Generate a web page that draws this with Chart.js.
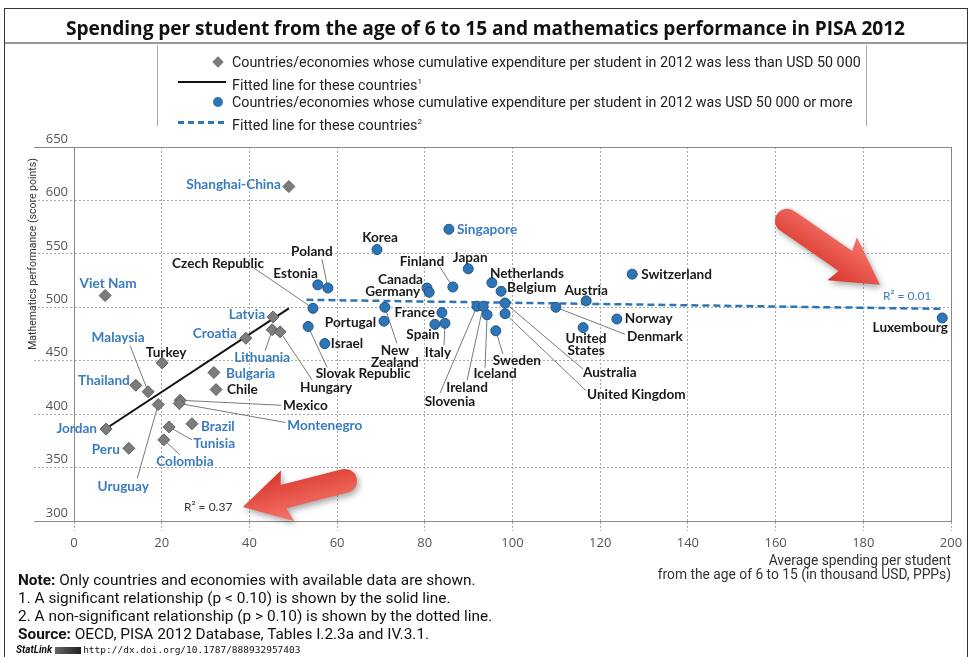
<!DOCTYPE html>
<html>
<head>
<meta charset="utf-8">
<script src="https://cdn.jsdelivr.net/npm/chart.js@4.4.1/dist/chart.umd.min.js"></script>
<style>
  body { margin: 0; background: #fff; }
  #wrap { position: relative; width: 971px; height: 657px; overflow: hidden; font-family: Roboto, sans-serif; color: #222; }
  #chart { position: absolute; left: 0; top: 0; }
  .abs { position: absolute; white-space: nowrap; }
  #frame { position: absolute; left: 4px; top: 8px; width: 962px; height: 660px; border: 1px solid #333; }
  #title { left: 0; top: 15px; width: 971px; text-align: center; font: bold 19.2px "Open Sans", sans-serif; line-height: 26px; color: #111; letter-spacing: -0.1px; }
  #rule { left: 5px; top: 42px; width: 962px; height: 0; border-top: 2px solid #999; }
  .vline { top: 45px; width: 0; height: 81px; border-left: 1px solid #aaa; }
  .leg { left: 232px; font-size: 14.3px; line-height: 16px; color: #222; }
  .leg sup { font-size: 8px; }
  .note { left: 18px; font-size: 15.4px; line-height: 18px; color: #111; }
  #ytitle { left: 32px; top: 254px; font-size: 10.5px; color: #333; transform: translate(-50%, -50%) rotate(-90deg); }
  #xtitle { right: 20px; top: 553px; text-align: right; font-size: 13.8px; line-height: 14px; color: #333; }
</style>
</head>
<body>
<div id="wrap">
  <canvas id="chart" width="971" height="657"></canvas>
  <div id="frame"></div>
  <div class="abs" id="title">Spending per student from the age of 6 to 15 and mathematics performance in PISA 2012</div>
  <div class="abs" id="rule"></div>
  <div class="abs vline" style="left:157px"></div>
  <div class="abs vline" style="left:866px"></div>

  <div class="abs" style="left:214px;top:58px;width:8px;height:8px;background:#7a7a7a;transform:rotate(45deg)"></div>
  <div class="abs leg" style="top:54px">Countries/economies whose cumulative expenditure per student in 2012 was less than USD 50 000</div>
  <div class="abs" style="left:178px;top:81px;width:48px;height:2px;background:#111"></div>
  <div class="abs leg" style="top:74px">Fitted line for these countries<sup>1</sup></div>
  <div class="abs" style="left:213px;top:97px;width:10px;height:10px;border-radius:50%;background:#2e75b6"></div>
  <div class="abs leg" style="top:94px">Countries/economies whose cumulative expenditure per student in 2012 was USD 50 000 or more</div>
  <div class="abs" style="left:178px;top:121px;width:48px;height:3px;background:repeating-linear-gradient(90deg,#2e75b6 0 6px,transparent 6px 10px)"></div>
  <div class="abs leg" style="top:114px">Fitted line for these countries<sup>2</sup></div>

  <div class="abs" id="ytitle">Mathematics performance (score points)</div>
  <div class="abs" id="xtitle">Average spending per student<br>from the age of 6 to 15 (in thousand USD, PPPs)</div>

  <div class="abs note" style="top:571px"><b>Note:</b> Only countries and economies with available data are shown.</div>
  <div class="abs note" style="top:589px">1. A significant relationship (p &lt; 0.10) is shown by the solid line.</div>
  <div class="abs note" style="top:607px">2. A non-significant relationship (p &gt; 0.10) is shown by the dotted line.</div>
  <div class="abs note" style="top:625px"><b>Source:</b> OECD, PISA 2012 Database, Tables I.2.3a and IV.3.1.</div>
  <div class="abs" style="left:16px;top:643px;font-size:10px;line-height:14px;color:#111">
    <b><i>StatLink</i></b>
    <span style="display:inline-block;width:26px;height:7px;background:linear-gradient(90deg,#666,#222);vertical-align:middle"></span>
    <span style="font-family:'DejaVu Sans Mono',monospace;font-size:9.5px">http://dx.doi.org/10.1787/888932957403</span>
  </div>
</div>

<script>
// under USD 50 000
const lowNames = ['Shanghai-China', 'Viet Nam', 'Latvia', 'Croatia', 'Lithuania', 'Hungary', 'Malaysia', 'Turkey',
    'Thailand', 'Uruguay', 'Mexico', 'Montenegro', 'Bulgaria', 'Chile', 'Jordan', 'Peru', 'Brazil', 'Tunisia', 'Colombia'];
const lowSpend = [49.0, 7.1, 45.4, 39.2, 45.2, 47.0, 16.9, 20.1, 14.1, 19.2, 24.2, 24.0, 31.9, 32.4, 7.3, 12.5, 26.9, 21.7, 20.5];
const lowMath = [613, 511, 491, 471, 479, 477, 421, 448, 427, 409, 413, 410, 439, 423, 386, 368, 391, 388, 376];

// USD 50 000 or more
const highNames = ['Singapore', 'Korea', 'Poland', 'Estonia', 'Czech Republic', 'Slovak Republic', 'Israel', 'Portugal',
    'New Zealand', 'Canada', 'Germany', 'Finland', 'Japan', 'France', 'Spain', 'Italy', 'Slovenia', 'Ireland', 'Iceland',
    'Sweden', 'Netherlands', 'Belgium', 'Australia', 'United Kingdom', 'Denmark', 'Austria', 'United States', 'Norway',
    'Switzerland', 'Luxembourg'];
const highSpend = [85.5, 69.1, 57.9, 55.6, 54.5, 53.4, 57.2, 70.7, 70.9, 80.5, 81.0, 86.4, 89.9, 83.9, 82.3, 84.6, 91.9,
    93.3, 94.2, 96.2, 95.3, 97.4, 98.3, 98.3, 109.9, 116.8, 116.1, 123.8, 127.3, 198.0];
const highMath = [573, 554, 518, 521, 499, 482, 466, 487, 500, 518, 514, 519, 536, 495, 484, 485, 501, 501, 493, 478,
    523, 515, 504, 494, 500, 506, 481, 489, 531, 490];

// partner economies get blue labels
const partners = ['Shanghai-China', 'Viet Nam', 'Latvia', 'Croatia', 'Lithuania', 'Malaysia', 'Thailand', 'Uruguay',
    'Montenegro', 'Bulgaria', 'Jordan', 'Peru', 'Brazil', 'Tunisia', 'Colombia', 'Singapore'];

// fitted lines
const lowFitX = [7.5, 49];
const lowFitY = [387, 499];
const highFitX = [53, 198];
const highFitY = [507, 498.5];

const xTicks = [0, 20, 40, 60, 80, 100, 120, 140, 160, 180, 200];
const yTicks = [300, 350, 400, 450, 500, 550, 600, 650];

// label placement: dx, dy, align, leader end dx, dy (px from the point)
const labelPos = {
    'Shanghai-China': [-8, -2, 'right'], 'Viet Nam': [3, -12, 'center'], 'Latvia': [-8, -2, 'right'],
    'Croatia': [-9, -5, 'right'], 'Lithuania': [-10, 28, 'center', -7, 21], 'Hungary': [46, 56, 'center', 32, 48],
    'Malaysia': [-30, -54, 'center', -18, -46], 'Turkey': [4, -10, 'center'], 'Thailand': [-6, -5, 'right'],
    'Uruguay': [-35, 82, 'center', -21, 74], 'Mexico': [103, 5, 'left', 101, 5], 'Montenegro': [108, 22, 'left', 106, 19],
    'Bulgaria': [12, 1, 'left'], 'Chile': [11, 0, 'left'], 'Jordan': [-9, 0, 'right'], 'Peru': [-9, 1, 'right'],
    'Brazil': [9, 3, 'left'], 'Tunisia': [24, 17, 'left', 23, 13], 'Colombia': [21, 22, 'center', 16, 15],
    'Singapore': [8, 0, 'left'], 'Korea': [3, -12, 'center'], 'Poland': [-16, -36, 'center', -6, -29],
    'Estonia': [0, -11, 'right'], 'Czech Republic': [-95, -45, 'center', -60, -41],
    'Slovak Republic': [55, 47, 'center', 19, 41], 'Israel': [6, 0, 'left'], 'Portugal': [-8, 1, 'right'],
    'New Zealand': [10, 43, 'center', 12, 36], 'Canada': [-4, -8, 'right'], 'Germany': [-9, -1, 'right'],
    'Finland': [-31, -25, 'center', -13, -20], 'Japan': [2, -11, 'center'], 'France': [-7, 0, 'right'],
    'Spain': [-12, 10, 'center'], 'Italy': [-7, 29, 'center', -1, 22], 'Slovenia': [-27, 95, 'center', -37, 87],
    'Ireland': [-16, 81, 'center', -16, 74], 'Iceland': [8, 59, 'center', -2, 53], 'Sweden': [21, 30, 'center', 7, 23],
    'Netherlands': [-2, -9, 'left'], 'Belgium': [6, -4, 'left'], 'Australia': [78, 70, 'left', 78, 66],
    'United Kingdom': [82, 81, 'left', 81, 77], 'Denmark': [71, 29, 'left', 69, 27], 'Austria': [0, -10, 'center'],
    'United States': [3, 11, 'center'], 'Norway': [8, 0, 'left'], 'Switzerland': [9, 0, 'left'],
    'Luxembourg': [-32, 10, 'center']
};
const twoLine = { 'New Zealand': ['New', 'Zealand'], 'United States': ['United', 'States'] };

// annotations in data units
const r2Low = { x: 30.6, y: 313, text: 'R\u00b2 = 0.37' };
const r2High = { x: 190, y: 510.5, text: 'R\u00b2 = 0.01' };
const arrows = [
    { from: [162.6, 581], to: [183.8, 521] },
    { from: [61.8, 337.5], to: [38.5, 313] }
];

const BLUE = '#2e75b6';
const LABEL_BLUE = '#3b7cc0';

function drawArrow(ctx, x0, y0, x1, y1) {
    const ang = Math.atan2(y1 - y0, x1 - x0);
    const len = Math.hypot(x1 - x0, y1 - y0);
    const shaft = 12, head = 26, headLen = 42;
    ctx.save();
    ctx.translate(x0, y0);
    ctx.rotate(ang);
    ctx.shadowColor = 'rgba(0,0,0,0.35)';
    ctx.shadowBlur = 6;
    ctx.shadowOffsetX = 2;
    ctx.shadowOffsetY = 3;
    const g = ctx.createLinearGradient(0, -head, 0, head);
    g.addColorStop(0, '#f6756a');
    g.addColorStop(1, '#d8352b');
    ctx.fillStyle = g;
    ctx.beginPath();
    ctx.moveTo(0, -shaft);
    ctx.lineTo(len - headLen, -shaft);
    ctx.lineTo(len - headLen - 4, -head);
    ctx.lineTo(len, 0);
    ctx.lineTo(len - headLen - 4, head);
    ctx.lineTo(len - headLen, shaft);
    ctx.lineTo(0, shaft);
    ctx.arc(0, 0, shaft, Math.PI / 2, Math.PI * 1.5);
    ctx.closePath();
    ctx.fill();
    ctx.restore();
}

const countryLabels = {
    id: 'countryLabels',
    beforeDatasetsDraw(chart) {
        const ctx = chart.ctx;
        ctx.save();
        ctx.strokeStyle = '#7a7a7a';
        ctx.lineWidth = 1;
        [[0, lowNames], [1, highNames]].forEach(([di, names]) => {
            chart.getDatasetMeta(di).data.forEach((pt, i) => {
                const p = labelPos[names[i]];
                if (!p || p.length < 5) return;
                ctx.beginPath();
                ctx.moveTo(pt.x, pt.y);
                ctx.lineTo(pt.x + p[3], pt.y + p[4]);
                ctx.stroke();
            });
        });
        ctx.restore();
    },
    afterDatasetsDraw(chart) {
        const ctx = chart.ctx;
        const xs = chart.scales.x, ys = chart.scales.y;
        ctx.save();
        ctx.font = 'bold 13.6px Lato, sans-serif';
        ctx.textBaseline = 'middle';
        [[0, lowNames], [1, highNames]].forEach(([di, names]) => {
            chart.getDatasetMeta(di).data.forEach((pt, i) => {
                const name = names[i];
                const p = labelPos[name] || [6, 0, 'left'];
                ctx.fillStyle = partners.includes(name) ? LABEL_BLUE : '#1a1a1a';
                ctx.textAlign = p[2];
                const lines = twoLine[name] || [name];
                lines.forEach((t, k) => ctx.fillText(t, pt.x + p[0], pt.y + p[1] + k * 12));
            });
        });
        ctx.font = '12px Lato, sans-serif';
        ctx.textAlign = 'center';
        ctx.fillStyle = '#333';
        ctx.fillText(r2Low.text, xs.getPixelForValue(r2Low.x), ys.getPixelForValue(r2Low.y));
        ctx.fillStyle = LABEL_BLUE;
        ctx.fillText(r2High.text, xs.getPixelForValue(r2High.x), ys.getPixelForValue(r2High.y));
        ctx.restore();
    },
    afterDraw(chart) {
        const xs = chart.scales.x, ys = chart.scales.y;
        arrows.forEach(a => drawArrow(chart.ctx,
            xs.getPixelForValue(a.from[0]), ys.getPixelForValue(a.from[1]),
            xs.getPixelForValue(a.to[0]), ys.getPixelForValue(a.to[1])));
    }
};

const dotted = [2, 2];
const gridColor = '#a8a8a8';
const isEdgeY = c => c.tick && (c.tick.value === 300 || c.tick.value === 650);

new Chart(document.getElementById('chart'), {
    type: 'scatter',
    data: {
        datasets: [
            {
                label: 'Less than USD 50 000',
                data: lowSpend.map((v, i) => ({ x: v, y: lowMath[i] })),
                pointStyle: 'rectRot',
                pointRadius: 6,
                backgroundColor: '#7c7c7c',
                borderColor: '#5e5e5e',
                borderWidth: 1,
                order: 0
            },
            {
                label: 'USD 50 000 or more',
                data: highSpend.map((v, i) => ({ x: v, y: highMath[i] })),
                pointStyle: 'circle',
                pointRadius: 5,
                backgroundColor: BLUE,
                borderColor: '#1f5588',
                borderWidth: 1,
                order: 0
            },
            {
                label: 'Fitted line 1',
                data: lowFitX.map((v, i) => ({ x: v, y: lowFitY[i] })),
                showLine: true,
                pointRadius: 0,
                borderColor: '#111',
                borderWidth: 2,
                order: 1
            },
            {
                label: 'Fitted line 2',
                data: highFitX.map((v, i) => ({ x: v, y: highFitY[i] })),
                showLine: true,
                pointRadius: 0,
                borderColor: BLUE,
                borderWidth: 2.5,
                borderDash: [7, 4],
                order: 1
            }
        ]
    },
    options: {
        responsive: false,
        animation: false,
        devicePixelRatio: 1,
        layout: { padding: { top: 147, right: 20, bottom: 106, left: 0 } },
        plugins: { legend: { display: false }, tooltip: { enabled: false } },
        scales: {
            x: {
                type: 'linear',
                min: 0,
                max: 200,
                afterBuildTicks: s => { s.ticks = xTicks.map(v => ({ value: v })); },
                afterFit: s => { s.height = 30; },
                grid: {
                    color: c => c.tick && c.tick.value === 200 ? '#888' : gridColor,
                    borderDash: c => c.tick && c.tick.value === 200 ? [] : dotted,
                    tickBorderDash: dotted,
                    tickColor: gridColor,
                    tickLength: 10
                },
                border: {
                    color: '#888',
                    dash: c => c.tick && c.tick.value === 200 ? [] : dotted
                },
                ticks: { color: '#555', padding: 4, font: { family: 'Open Sans', size: 13 } }
            },
            y: {
                type: 'linear',
                min: 300,
                max: 650,
                afterBuildTicks: s => { s.ticks = yTicks.map(v => ({ value: v })); },
                afterFit: s => { s.width = 74; },
                grid: {
                    color: c => isEdgeY(c) ? '#888' : gridColor,
                    borderDash: c => isEdgeY(c) ? [] : dotted,
                    tickBorderDash: c => isEdgeY(c) ? [] : dotted,
                    tickColor: c => isEdgeY(c) ? '#888' : gridColor,
                    tickLength: 40
                },
                border: {
                    color: '#888',
                    dash: c => isEdgeY(c) ? [] : dotted
                },
                ticks: { color: '#555', padding: -34, labelOffset: -8, font: { family: 'Open Sans', size: 13 } }
            }
        }
    },
    plugins: [countryLabels]
});
</script>
</body>
</html>
